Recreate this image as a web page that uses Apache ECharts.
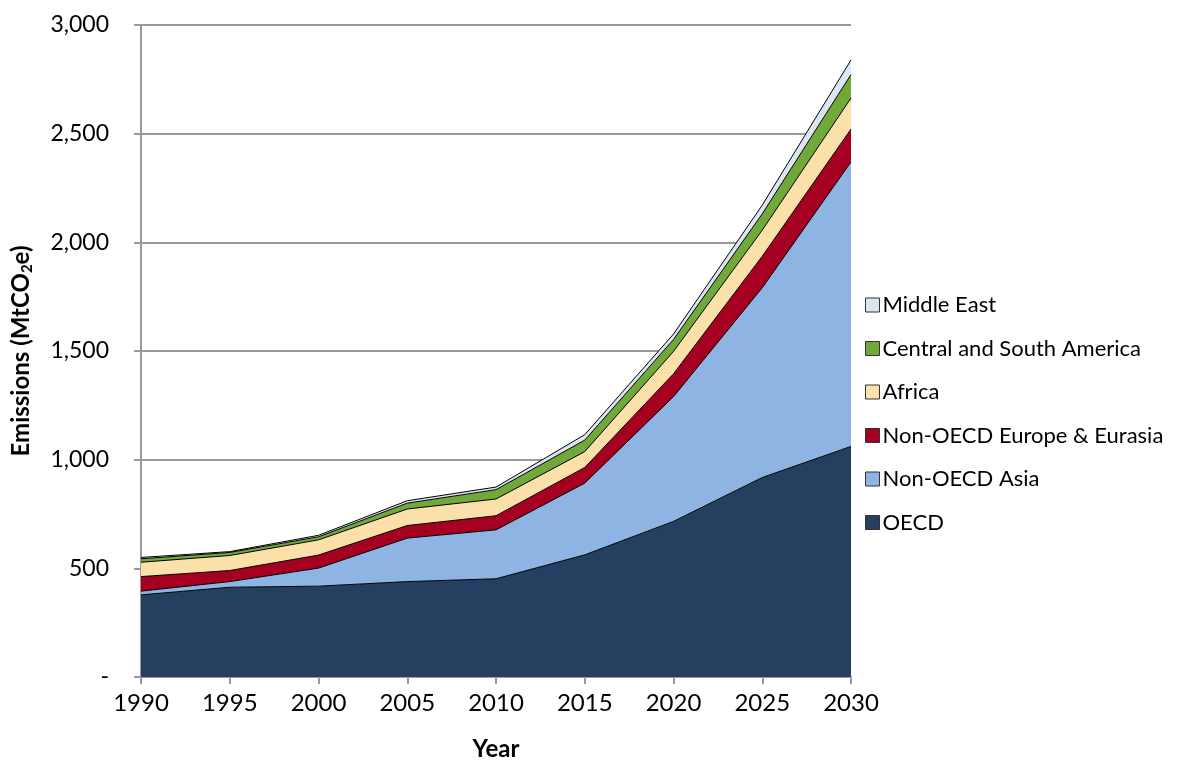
<!DOCTYPE html>
<html><head><meta charset="utf-8">
<script src="https://cdn.jsdelivr.net/npm/echarts@6/dist/echarts.min.js"></script>
<style>html,body{margin:0;padding:0;background:#fff}#c{width:1186px;height:762px}</style>
</head><body><div id="c"></div>
<script>
const years = ['1990','1995','2000','2005','2010','2015','2020','2025','2030'];
const oecd       = [378, 413, 418, 439, 452, 562, 716, 918, 1061];
const nonOecdAsia= [17, 26, 83, 200, 225, 330, 574, 873, 1309];
const nonOecdEur = [67, 51, 60, 58, 65, 72, 105, 145, 151];
const africa     = [66, 69, 70, 76, 77, 73, 103, 120, 143];
const csAmerica  = [16, 14, 14, 27, 43, 53, 55, 75, 108];
const middleEast = [6, 4, 7, 11, 12, 25, 25, 40, 67];
const seriesNames = ['OECD','Non-OECD Asia','Non-OECD Europe & Eurasia','Africa','Central and South America','Middle East'];
const seriesData = [oecd, nonOecdAsia, nonOecdEur, africa, csAmerica, middleEast];
const colors = ['#243F60','#8EB4E3','#A50021','#FCE0A9','#70A83A','#DCE6F2'];

const font = 'Lato, "Open Sans", sans-serif';
const chart = echarts.init(document.getElementById('c'));
chart.setOption({
  animation: false,
  grid: {left: 141, right: 335, top: 25, bottom: 85, containLabel: false, outerBoundsMode: 'none'},
  legend: {
    orient: 'vertical', left: 860, top: 289, itemGap: 21.5,
    itemWidth: 14, itemHeight: 14, icon: 'rect',
    data: seriesNames.slice().reverse(),
    itemStyle: {borderColor: '#333', borderWidth: 1},
    textStyle: {fontFamily: font, fontSize: 22, color: '#000', padding: [0,0,0,-2]}
  },
  xAxis: {
    type: 'category', data: years, boundaryGap: false,
    name: 'Year', nameLocation: 'middle', nameGap: 60,
    nameTextStyle: {fontFamily: font, fontSize: 24, fontWeight: 'bold', color: '#000'},
    axisLine: {lineStyle: {color: '#999', width: 2}},
    axisTick: {show: true, length: 7, lineStyle: {color: '#999', width: 2}},
    axisLabel: {fontFamily: font, fontSize: 24, color: '#000', margin: 14},
    splitLine: {show: false}
  },
  yAxis: {
    type: 'value', min: 0, max: 3000, interval: 500,
    name: '{a|Emissions (MtCO}{b|2}{a|e)}', nameLocation: 'middle', nameGap: 106, nameRotate: 90,
    nameTextStyle: {rich: {
      a: {fontFamily: font, fontSize: 24, fontWeight: 'bold', color: '#000'},
      b: {fontFamily: font, fontSize: 15, fontWeight: 'bold', color: '#000', verticalAlign: 'bottom', padding: [12,0,0,0]}
    }},
    axisLine: {show: true, lineStyle: {color: '#999', width: 2}},
    axisTick: {show: true, length: 7, lineStyle: {color: '#999', width: 2}},
    axisLabel: {fontFamily: font, fontSize: 23, color: '#000', margin: 32,
      formatter: v => v === 0 ? '-' : v.toLocaleString('en-US')},
    splitLine: {lineStyle: {color: '#999', width: 2}}
  },
  series: seriesNames.map((n, i) => ({
    name: n, type: 'line', stack: 'total', data: seriesData[i],
    symbol: 'none', smooth: false,
    lineStyle: {color: '#000', width: 1},
    itemStyle: {color: colors[i]},
    areaStyle: {color: colors[i], opacity: 1}
  }))
});
</script></body></html>
